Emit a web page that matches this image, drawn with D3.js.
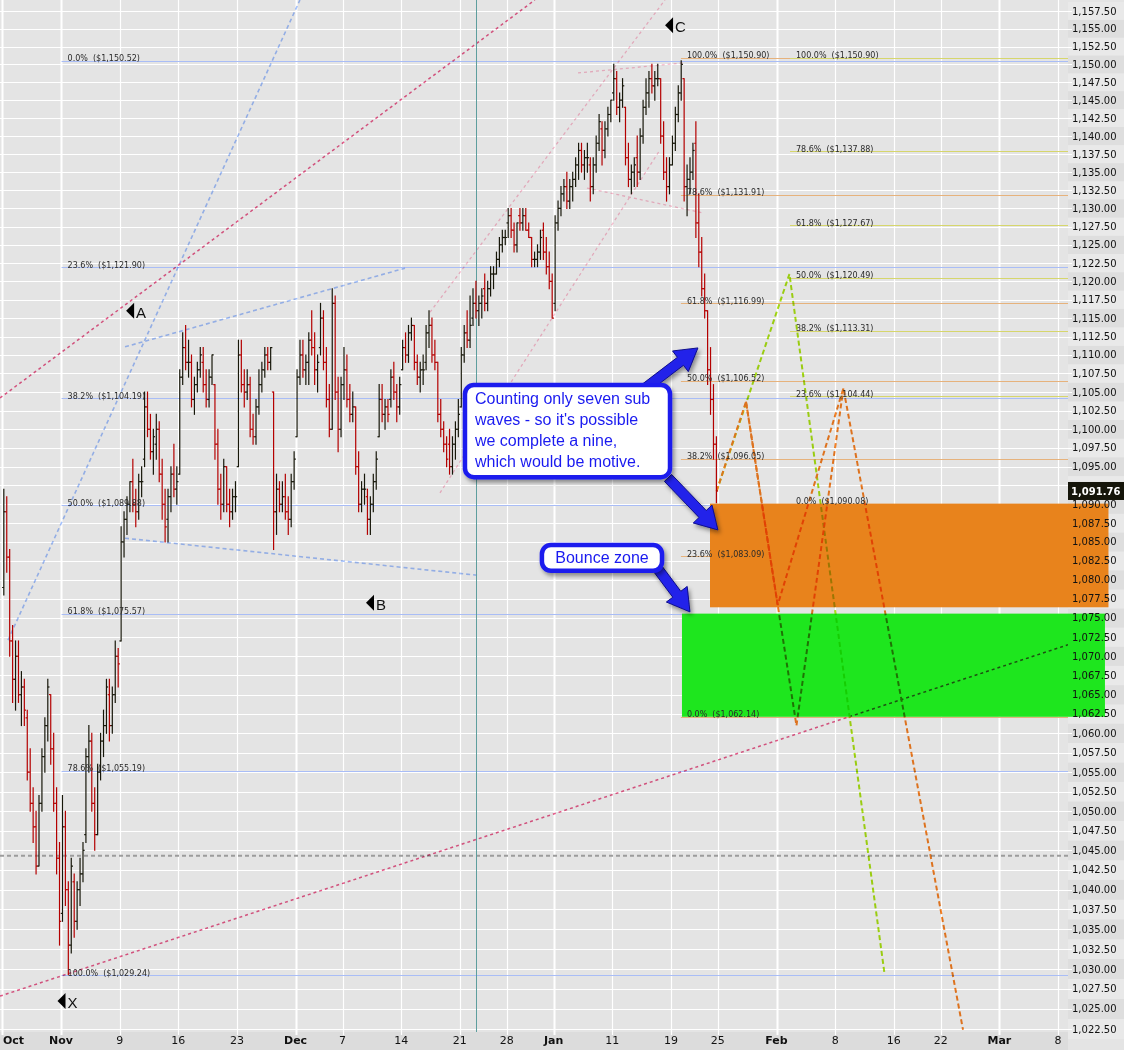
<!DOCTYPE html>
<html><head><meta charset="utf-8">
<script src="https://cdn.jsdelivr.net/npm/d3@7"></script>
<style>
body{margin:0;background:#fff;}
svg{display:block;}
text{font-family:"DejaVu Sans",Verdana,sans-serif;}
</style></head><body>
<svg id="c" width="1124" height="1050"></svg>
<script>
// ---------------- DATA ----------------
const firstSession = "2009-10-26";
const lastSession = "2010-03-31";
const holidays = ["2009-11-26","2009-12-25","2010-01-01","2010-01-18","2010-02-15"];
const tickDates = ["2009-10-26","2009-11-02","2009-11-09","2009-11-16","2009-11-23","2009-12-01","2009-12-07","2009-12-14","2009-12-21","2009-12-28","2010-01-04","2010-01-11","2010-01-19","2010-01-25","2010-02-01","2010-02-08","2010-02-16","2010-02-22","2010-03-01","2010-03-08"];
const tickLabels = ["Oct","Nov","9","16","23","Dec","7","14","21","28","Jan","11","19","25","Feb","8","16","22","Mar","8"];
const monthTicks = ["Oct","Nov","Dec","Jan","Feb","Mar"];

// S&P 500 intraday OHLC bars, 4 per trading session: [open, high, low, close]
const barsPerSession = 4;
const bars = [
[1079,1092,1078,1089],[1089,1091,1081,1083],[1083,1084,1070,1072],[1072,1074,1064,1067],
[1067,1072,1063,1070],[1070,1072,1064,1065],[1065,1068,1061,1066],[1066,1067,1061,1063],
[1062,1063,1054,1055],[1055,1058,1050,1051],[1051,1053,1046,1048],[1048,1050,1042,1043],
[1043,1052,1043,1051],[1051,1058,1050,1057],[1057,1062,1055,1061],[1061,1067,1059,1066],
[1065,1065,1056,1058],[1058,1060,1050,1051],[1051,1053,1042,1044],[1044,1046,1033,1036],
[1037,1052,1036,1048],[1048,1050,1038,1040],[1040,1041,1029.3,1033],[1033,1044,1032,1043],
[1041,1042,1034,1036],[1036,1041,1035,1040],[1040,1044,1038,1042],[1042,1046,1041,1045],
[1047,1058,1046,1057],[1057,1061,1055,1059],[1059,1060,1050,1051],[1051,1053,1045,1047],
[1047,1056,1047,1055],[1055,1060,1054,1059],[1059,1063,1057,1061],[1061,1067,1060,1066],
[1065,1067,1059,1061],[1061,1066,1060,1065],[1065,1072,1064,1070],[1070,1071,1066,1069],
[1072,1087,1072,1085],[1085,1089,1083,1088],[1088,1091,1086,1090],[1090,1093,1089,1093],
[1093,1096,1089,1090],[1090,1092,1087,1089],[1089,1094,1088,1093],[1093,1095,1091,1093],
[1096,1105,1095,1103],[1103,1105,1099,1100],[1100,1102,1096,1097],[1097,1100,1094,1099],
[1098,1102,1096,1100],[1100,1101,1093,1094],[1094,1096,1088,1090],[1090,1092,1085,1087],
[1088,1092,1085,1091],[1091,1095,1089,1094],[1094,1098,1091,1092],[1092,1095,1090,1093],
[1094,1108,1094,1107],[1107,1113,1106,1111],[1111,1114,1108,1109],[1109,1112,1107,1109],
[1109,1110,1103,1104],[1104,1107,1102,1106],[1106,1109,1105,1108],[1108,1111,1107,1110],
[1109,1111,1105,1106],[1106,1108,1103,1104],[1104,1108,1103,1107],[1107,1110,1106,1110],
[1106,1106,1096,1098],[1098,1100,1090,1092],[1092,1094,1088,1090],[1090,1096,1089,1095],
[1095,1095,1089,1090],[1090,1092,1087,1089],[1089,1092,1088,1091],[1091,1093,1089,1091],
[1095,1112,1095,1110],[1110,1112,1105,1106],[1106,1108,1103,1105],[1105,1108,1104,1106],
[1106,1107,1099,1100],[1100,1102,1098,1099],[1099,1104,1098,1103],[1103,1108,1102,1106],
[1106,1109,1105,1108],[1108,1111,1107,1110],[1110,1111,1108,1109],[1109,1111,1108,1111],
[1105,1105,1084,1089],[1089,1094,1086,1092],[1092,1093,1089,1090],[1090,1093,1089,1091],
[1091,1094,1088,1089],[1089,1091,1086,1088],[1088,1094,1087,1093],[1093,1097,1092,1096],
[1099,1108,1099,1107],[1107,1112,1106,1110],[1110,1112,1107,1108],[1108,1110,1106,1109],
[1109,1113,1106,1112],[1112,1116,1110,1111],[1111,1113,1106,1108],[1108,1110,1105,1109],
[1111,1117,1110,1115],[1115,1116,1108,1109],[1109,1111,1103,1104],[1104,1106,1099,1100],
[1100,1119,1100,1117],[1117,1118,1104,1105],[1105,1107,1097,1100],[1100,1107,1099,1106],
[1106,1111,1104,1108],[1108,1110,1103,1104],[1104,1106,1101,1102],[1102,1105,1101,1103],
[1103,1103,1094,1095],[1095,1097,1089,1090],[1090,1093,1089,1092],[1092,1094,1090,1092],
[1091,1092,1086,1088],[1088,1091,1086,1090],[1090,1094,1089,1093],[1093,1097,1092,1096],
[1099,1106,1099,1104],[1104,1106,1101,1102],[1102,1104,1100,1103],[1103,1104,1101,1102],
[1104,1108,1103,1107],[1107,1109,1104,1105],[1105,1106,1101,1103],[1103,1107,1102,1106],
[1108,1112,1108,1111],[1111,1113,1109,1110],[1110,1114,1109,1113],[1113,1115,1112,1114],
[1114,1114,1108,1109],[1109,1110,1106,1107],[1107,1109,1105,1108],[1108,1110,1106,1108],
[1109,1114,1108,1113],[1113,1116,1111,1114],[1114,1115,1109,1110],[1110,1112,1108,1109],
[1109,1109,1101,1102],[1102,1104,1099,1100],[1100,1101,1097,1098],[1098,1099,1095,1096],
[1098,1100,1094,1095],[1095,1099,1094,1098],[1098,1101,1096,1100],[1100,1104,1099,1102],
[1103,1111,1103,1110],[1110,1114,1109,1113],[1113,1116,1111,1112],[1112,1118,1111,1114],
[1115,1119,1114,1117],[1117,1120,1115,1116],[1116,1118,1114,1117],[1117,1119,1115,1118],
[1119,1121,1116,1117],[1117,1120,1116,1119],[1119,1122,1118,1121],[1121,1122,1119,1121],
[1121,1124,1121,1123],[1123,1126,1122,1125],[1125,1127,1124,1126],[1126,1127,1125,1126],
[1128,1130,1126,1129],[1129,1130,1126,1127],[1127,1128,1124,1125],[1125,1128,1124,1128],
[1129,1130,1127,1128],[1128,1130,1127,1129],[1129,1130,1127,1127],[1127,1128,1126,1126],
[1126,1126,1122,1123],[1123,1124,1122,1123],[1123,1125,1122,1124],[1124,1127,1123,1126],
[1127,1128,1123,1124],[1124,1126,1121,1122],[1122,1124,1119,1120],[1120,1121,1115,1115],
[1117,1129,1116,1128],[1128,1131,1127,1130],[1130,1133,1129,1132],[1132,1134,1131,1133],
[1133,1135,1130,1131],[1131,1134,1130,1133],[1133,1135,1131,1134],[1134,1137,1133,1136],
[1136,1139,1134,1138],[1138,1139,1135,1136],[1136,1138,1134,1137],[1137,1139,1135,1137],
[1136,1137,1131,1133],[1133,1137,1132,1136],[1136,1140,1135,1139],[1139,1143,1138,1142],
[1141,1142,1136,1138],[1138,1142,1137,1141],[1141,1144,1140,1143],[1143,1145,1142,1145],
[1146,1150,1145,1148],[1148,1149,1143,1144],[1144,1146,1142,1145],[1145,1148,1144,1147],
[1144,1144,1136,1137],[1137,1139,1133,1134],[1134,1136,1132,1135],[1135,1137,1133,1136],
[1137,1140,1133,1135],[1135,1141,1134,1140],[1140,1145,1139,1144],[1144,1148,1143,1146],
[1146,1149,1144,1148],[1148,1150,1146,1147],[1147,1149,1145,1148],[1148,1150,1147,1148],
[1148,1148,1139,1140],[1140,1142,1134,1135],[1135,1137,1131,1133],[1133,1137,1132,1136],
[1136,1140,1136,1139],[1139,1144,1138,1143],[1143,1147,1142,1146],[1146,1150.5,1145,1150],
[1148,1148,1131,1133],[1133,1136,1129,1134],[1134,1137,1132,1135],[1135,1139,1134,1138],
[1139,1142,1126,1128],[1128,1132,1122,1124],[1124,1126,1118,1119],[1119,1121,1115,1116],
[1116,1116,1106,1108],[1108,1111,1102,1104],[1104,1106,1096,1098],[1098,1099,1090.2,1091.76]
];

// Fibonacci retracement sets
const fib1Start = 5.05, fib2Start = 57.85, fib3Start = 67.15; // session index
const fib1Pct = ["0.0%","23.6%","38.2%","50.0%","61.8%","78.6%","100.0%"];
const fib1Val = [1150.52,1121.90,1104.19,1089.88,1075.57,1055.19,1029.24];
const fib2Pct = ["100.0%","78.6%","61.8%","50.0%","38.2%","23.6%","0.0%"];
const fib2Val = [1150.90,1131.91,1116.99,1106.52,1096.05,1083.09,1062.14];
const fib3Pct = ["100.0%","78.6%","61.8%","50.0%","38.2%","23.6%","0.0%"];
const fib3Val = [1150.90,1137.88,1127.67,1120.49,1113.31,1104.44,1090.08];

// trend lines [session1, price1, session2, price2]
const trendStrong = [[-0.2,1104.2,45.4,1159.05],[-0.2,1026.6,90.85,1071.5]];
const trendLight = [[36.46,1115.8,56.49,1159.05],[37.31,1091.5,56.07,1138.1],[49.08,1148.8,58.03,1150.2],[49.84,1132.8,59.65,1129.4]];
const trendBlue = [[0.48,1072.1,25.37,1159.05],[10.46,1111.1,34.33,1121.8],[10.46,1085.5,40.55,1080.6]];

// projected wave paths [session, price]
const projOrangeA = [[60.9,1091.76],[63.4,1103.7],[66.1,1076.7],[71.7,1105.5],[81.9,1022.4]];
const projOrangeB = [[63.4,1103.7],[67.7,1061.0],[71.7,1105.5]];
const projGreen = [[60.9,1091.76],[67.1,1121.0],[75.2,1029.5]];

// zones [session from, session to, price top, price bottom]
const zoneOrange = [60.33,94.3,1090.08,1076.4];
const zoneGreen = [57.94,94.0,1075.57,1062.14];
const supportLine = 1044.3;
const markerSession = 40.4;

// wave labels [label, session, price]
const waveLabels = [["A",10.55,1116.0],["B",31.0,1077.0],["C",56.5,1155.5],["X",4.7,1026.0]];

// callouts [session1, price1, session2, price2]
const callout1 = [39.44,1105.95,56.92,1093.6];
const callout1Text = ["Counting only seven sub","waves - so it's possible","we complete a nine,","which would be motive."];
const callout2 = [46.0,1084.6,56.24,1081.2];
const callout2Text = ["Bounce zone"];
const arrows = [[54.79,1105.5,59.3,1110.95],[56.75,1093.5,61.0,1086.6],[55.81,1081.6,58.62,1075.8]];

// ---------------- CHART ----------------
function buildSessions(start, end, hol){
  const out=[], H=new Set(hol);
  let d=new Date(start+"T00:00:00Z"); const e=new Date(end+"T00:00:00Z");
  while(d<=e){const wd=d.getUTCDay(), s=d.toISOString().slice(0,10);
    if(wd!==0&&wd!==6&&!H.has(s)) out.push(s); d=new Date(d.getTime()+86400000);}
  return out;
}
const sessions = buildSessions(firstSession,lastSession,holidays);
const sIdx = s => sessions.indexOf(s);

const W=1124,H=1050,plotR=1068,plotB=1032;
const svg=d3.select("#c");
const x=d3.scaleLinear().domain([-0.2,90.85]).range([0,plotR]);
const y=d3.scaleLog().domain([1022.5,1157.5]).range([1029,11]);
const priceTicks=d3.range(0,55).map(i=>1022.5+2.5*i);

const defs=svg.append("defs");
defs.append("clipPath").attr("id","plot").append("rect").attr("x",0).attr("y",0).attr("width",plotR).attr("height",plotB);
const sh=defs.append("filter").attr("id","shadow").attr("x","-10%").attr("y","-10%").attr("width","130%").attr("height","140%");
sh.append("feDropShadow").attr("dx",2).attr("dy",3).attr("stdDeviation",2).attr("flood-color","#000").attr("flood-opacity",0.4);

// backgrounds
svg.append("rect").attr("x",0).attr("y",0).attr("width",W).attr("height",H).attr("fill","#e4e4e4");
svg.append("g").selectAll("rect").data(priceTicks).join("rect")
  .attr("x",plotR).attr("width",W-plotR)
  .attr("y",(d)=>y(d+1.25)).attr("height",d=>y(d-1.25)-y(d+1.25))
  .attr("fill",(d,i)=>i%2?"#dedede":"#e9e9e9");
svg.append("rect").attr("x",0).attr("y",plotB).attr("width",plotR).attr("height",H-plotB).attr("fill","#dcdcdc");

// grid
const grid=svg.append("g");
grid.selectAll("line.h").data(priceTicks).join("line")
  .attr("x1",0).attr("x2",plotR+4).attr("y1",d=>Math.round(y(d))+0.5).attr("y2",d=>Math.round(y(d))+0.5)
  .attr("stroke","#fff").attr("stroke-width",1);
grid.selectAll("line.v").data(tickDates).join("line")
  .attr("x1",d=>Math.round(x(sIdx(d)))+0.5).attr("x2",d=>Math.round(x(sIdx(d)))+0.5)
  .attr("y1",0).attr("y2",plotB+3)
  .attr("stroke","#fff").attr("stroke-width",(d,i)=>monthTicks.includes(tickLabels[i])?2:1.2);

// fib lines
const lower=svg.append("g").attr("clip-path","url(#plot)");
function fibLines(start,vals,color,extendR){
  lower.append("g").selectAll("line").data(vals).join("line")
   .attr("x1",x(start)).attr("x2",extendR)
   .attr("y1",d=>Math.round(y(d))+0.5).attr("y2",d=>Math.round(y(d))+0.5)
   .attr("stroke",color).attr("stroke-width",1);
}
fibLines(fib1Start,fib1Val,"#a9bdf6",plotR);
fibLines(fib2Start,fib2Val,"#e6b27c",plotR);
fibLines(fib3Start,fib3Val,"#d6d66c",plotR);
lower.append("line").attr("x1",0).attr("x2",plotR).attr("y1",y(supportLine)).attr("y2",y(supportLine))
  .attr("stroke","#9c9c9c").attr("stroke-width",2).attr("stroke-dasharray","4,3");

// zones
function zone(z,color){
  svg.append("rect").attr("x",x(z[0])).attr("width",x(z[1])-x(z[0]))
    .attr("y",y(z[2])).attr("height",y(z[3])-y(z[2])).attr("fill",color);
}
zone(zoneOrange,"#e8831c");
zone(zoneGreen,"#1ee61e");

// trend lines and projections: whole group multiplied over the zones
const plot=svg.append("g").attr("clip-path","url(#plot)").style("mix-blend-mode","multiply");
function tl(arr,color,w,dash){
  plot.append("g").selectAll("line").data(arr).join("line")
   .attr("x1",d=>x(d[0])).attr("y1",d=>y(d[1])).attr("x2",d=>x(d[2])).attr("y2",d=>y(d[3]))
   .attr("stroke",color).attr("stroke-width",w).attr("stroke-dasharray",dash);
}
tl(trendBlue,"#a4c2ff",1.6,"4,3");
tl(trendLight,"#fcbdd0",1.3,"3,3");
tl(trendStrong,"#ea5a8b",1.5,"3,3");

const line=d3.line().x(d=>x(d[0])).y(d=>y(d[1]));
function proj(p,color){
  plot.append("path").attr("d",line(p)).attr("fill","none").attr("stroke",color)
   .attr("stroke-width",2).attr("stroke-dasharray","5,3");
}
proj(projGreen,"#ace512");
proj(projOrangeB,"#f88022");
proj(projOrangeA,"#f88022");

// teal marker line
svg.append("line").attr("x1",Math.round(x(markerSession))+0.5).attr("x2",Math.round(x(markerSession))+0.5)
  .attr("y1",0).attr("y2",plotB).attr("stroke","#5e9e9e").attr("stroke-width",1);

// OHLC bars
const bx=i=>x(Math.floor(i/barsPerSession)+((i%barsPerSession)+0.5)/barsPerSession);
const bg=svg.append("g").attr("clip-path","url(#plot)");
const bsel=bg.selectAll("g").data(bars).join("g")
  .attr("stroke",d=>d[3]>=d[0]?"#17170a":"#b40000").attr("stroke-width",1.2);
bsel.append("line").attr("x1",(d,i)=>bx(i)).attr("x2",(d,i)=>bx(i)).attr("y1",d=>y(d[1])-0.5).attr("y2",d=>y(d[2])+0.5);
bsel.append("line").attr("x1",(d,i)=>bx(i)-1.7).attr("x2",(d,i)=>bx(i)).attr("y1",d=>y(d[0])).attr("y2",d=>y(d[0]));
bsel.append("line").attr("x1",(d,i)=>bx(i)).attr("x2",(d,i)=>bx(i)+1.7).attr("y1",d=>y(d[3])).attr("y2",d=>y(d[3]));

// fib labels
const fmt=d3.format(",.2f");
function fibLabels(start,pcts,vals){
  svg.append("g").selectAll("text").data(vals).join("text")
   .attr("x",x(start)+6).attr("y",d=>y(d)+0.5)
   .attr("font-size",8).attr("fill","#2a2a2a").style("white-space","pre")
   .text((d,i)=>pcts[i]+"  ($"+fmt(d)+")");
}
fibLabels(fib1Start,fib1Pct,fib1Val);
fibLabels(fib2Start,fib2Pct,fib2Val);
fibLabels(fib3Start,fib3Pct,fib3Val);

// wave labels
const wl=svg.append("g").selectAll("g").data(waveLabels).join("g");
wl.append("path").attr("d",d=>{const tx=x(d[1]),ty=y(d[2]);return `M${tx},${ty}L${tx+8},${ty-8}L${tx+8},${ty+8}Z`;}).attr("fill","#000");
wl.append("text").attr("x",d=>x(d[1])+10).attr("y",d=>y(d[2])+7)
  .attr("font-size",15).style("font-family","'Liberation Sans',Arial,sans-serif").attr("fill","#111").text(d=>d[0]);

// arrows
function arrowPath(x1,y1,x2,y2){
  const a=Math.atan2(y2-y1,x2-x1), L=Math.hypot(x2-x1,y2-y1), sw=5, hw=13, hl=22;
  const pts=[[0,-sw],[L-hl,-sw],[L-hl,-hw],[L,0],[L-hl,hw],[L-hl,sw],[0,sw]];
  return "M"+pts.map(p=>[x1+p[0]*Math.cos(a)-p[1]*Math.sin(a), y1+p[0]*Math.sin(a)+p[1]*Math.cos(a)].join(",")).join("L")+"Z";
}
svg.append("g").selectAll("path").data(arrows).join("path")
  .attr("d",d=>arrowPath(x(d[0]),y(d[1]),x(d[2]),y(d[3])))
  .attr("fill","#2424ea").attr("stroke","#0b0b8c").attr("stroke-width",1).attr("filter","url(#shadow)");

// callouts
function callout(c,lines){
  const x1=x(c[0]),y1=y(c[1]),x2=x(c[2]),y2=y(c[3]);
  const g=svg.append("g");
  g.append("rect").attr("x",x1).attr("y",y1).attr("width",x2-x1).attr("height",y2-y1)
   .attr("rx",9).attr("fill","#fff").attr("stroke","#1d1dee").attr("stroke-width",4.5).attr("filter","url(#shadow)");
  const single=lines.length===1;
  g.selectAll("text").data(lines).join("text")
   .attr("x",single?(x1+x2)/2:x1+10).attr("text-anchor",single?"middle":"start")
   .attr("y",(d,i)=>single?(y1+y2)/2+5.5:y1+19+i*21)
   .attr("font-size",16).style("font-family","'Liberation Sans',Arial,sans-serif").attr("fill","#1a1af0").text(d=>d);
}
callout(callout1,callout1Text);
callout(callout2,callout2Text);

// right axis labels (the one hidden by the last-price tag is skipped)
const last=bars[bars.length-1][3];
svg.append("g").selectAll("text").data(priceTicks.filter(d=>Math.abs(y(d)-y(last))>12)).join("text")
  .attr("x",plotR+4).attr("y",d=>y(d)+3.5).attr("font-size",10).attr("fill","#111")
  .text(d=>fmt(d));
svg.append("rect").attr("x",plotR).attr("y",y(last)-9).attr("width",W-plotR).attr("height",18).attr("fill","#15150a");
svg.append("text").attr("x",plotR+3).attr("y",y(last)+4).attr("font-size",10).attr("font-weight","bold").attr("fill","#fff").text(fmt(last));

// bottom date labels
svg.append("g").selectAll("text").data(tickDates).join("text")
  .attr("x",d=>Math.max(3,x(sIdx(d))))
  .attr("text-anchor",(d,i)=>x(sIdx(d))<12?"start":"middle")
  .attr("y",1044).attr("font-size",11)
  .attr("font-weight",(d,i)=>monthTicks.includes(tickLabels[i])?"bold":"normal")
  .attr("fill","#111").text((d,i)=>tickLabels[i]);
</script>
</body></html>
